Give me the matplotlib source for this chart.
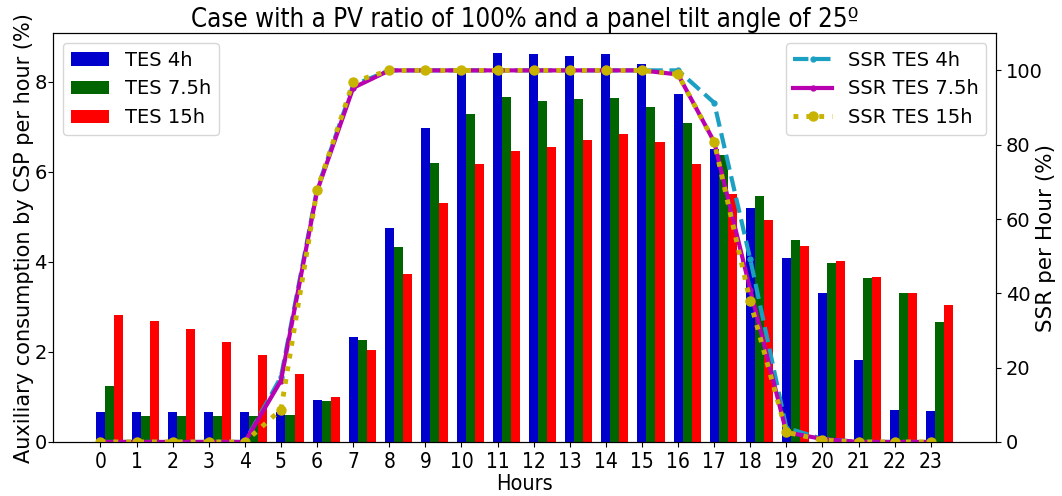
import numpy as np
import matplotlib
matplotlib.use('Agg')
import matplotlib.pyplot as plt

hours = np.arange(24)

# auxiliary consumption by CSP per hour (%)
aux_tes4 = [0.67, 0.67, 0.67, 0.67, 0.67, 0.67, 0.92, 2.32, 4.74, 6.97, 8.24, 8.64,
            8.60, 8.57, 8.60, 8.40, 7.73, 6.50, 5.20, 4.09, 3.30, 1.82, 0.70, 0.69]
aux_tes75 = [1.24, 0.58, 0.58, 0.58, 0.58, 0.59, 0.91, 2.26, 4.32, 6.20, 7.27, 7.66,
             7.57, 7.61, 7.64, 7.44, 7.09, 6.38, 5.46, 4.49, 3.98, 3.64, 3.31, 2.67]
aux_tes15 = [2.81, 2.69, 2.50, 2.22, 1.94, 1.50, 1.00, 2.03, 3.73, 5.31, 6.18, 6.45,
             6.54, 6.70, 6.84, 6.65, 6.17, 5.51, 4.92, 4.35, 4.01, 3.65, 3.30, 3.03]

# self-supply ratio per hour (%)
ssr_tes4 = [0, 0, 0, 0, 0, 17.5, 68.0, 96.0, 100, 100, 100, 100,
            100, 100, 100, 100, 100, 91.3, 49.2, 3.8, 0.8, 0, 0, 0]
ssr_tes75 = [0, 0, 0, 0, 0, 16.5, 67.5, 95.3, 100, 100, 100, 100,
             100, 100, 100, 100, 98.9, 80.8, 41.0, 2.6, 0.8, 0, 0, 0]
ssr_tes15 = [0, 0, 0, 0, 0, 8.7, 67.8, 96.9, 100, 100, 100, 100,
             100, 100, 100, 100, 98.9, 80.8, 37.8, 2.6, 0.5, 0, 0, 0]

w = 0.25

fig = plt.figure(figsize=(10.62, 4.96), dpi=100)
ax = fig.add_axes([0.050, 0.109, 0.888, 0.824])

ax.bar(hours, aux_tes4, w, color='mediumblue', label='TES 4h')
ax.bar(hours + w, aux_tes75, w, color='darkgreen', label='TES 7.5h')
ax.bar(hours + 2 * w, aux_tes15, w, color='red', label='TES 15h')
ax.set_xticks(hours)
ax.set_xticklabels([str(h) for h in hours], fontsize=15, fontstretch='condensed')
ax.tick_params(axis='y', labelsize=14, pad=1)
ax.set_xlabel('Hours', fontsize=15.5, fontstretch='condensed', labelpad=2)
ax.set_ylabel('Auxiliary consumption by CSP per hour (%)', fontsize=15, labelpad=0)
ax.set_title('Case with a PV ratio of 100% and a panel tilt angle of 25º',
             fontsize=18.5, fontstretch='condensed', pad=4)
ax.legend(loc='upper left', fontsize=14)

ax2 = ax.twinx()
ax2.plot(hours, ssr_tes4, '--', color='#1ba0c4', lw=3, marker='.', ms=7, label='SSR TES 4h')
ax2.plot(hours, ssr_tes75, '-', color='#b800b0', lw=3, marker='.', ms=7, label='SSR TES 7.5h')
ax2.plot(hours, ssr_tes15, ':', color='#c8b400', lw=3.5, marker='o', ms=6.5, label='SSR TES 15h')
ax2.set_ylim(0, 110)
ax2.tick_params(axis='y', labelsize=14)
ax2.set_ylabel('SSR per Hour (%)', fontsize=15.5, labelpad=-5)
ax2.legend(loc='upper right', fontsize=14)

fig.savefig('out.png', dpi=100)
